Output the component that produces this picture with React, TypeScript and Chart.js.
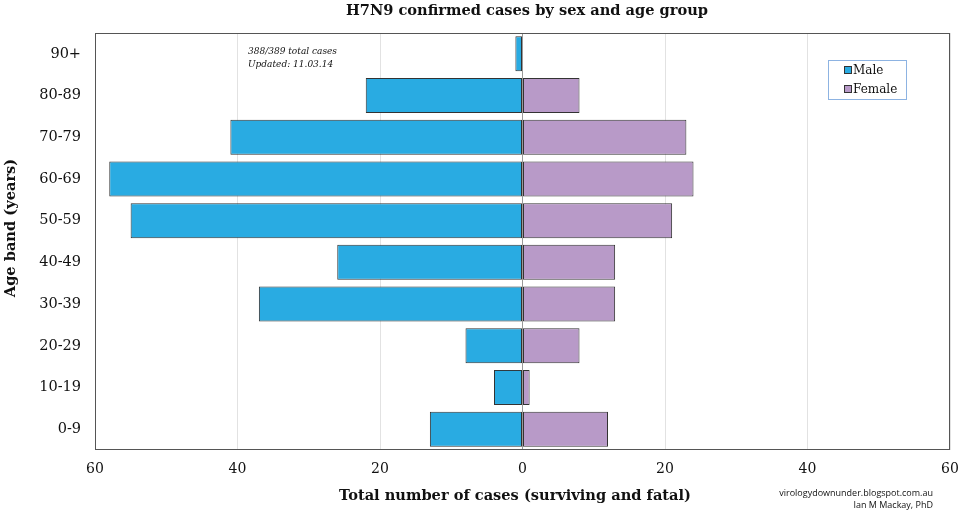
import React, { useEffect, useRef } from "react";
import { Chart, registerables } from "chart.js";

Chart.register(...registerables);

const ageBands = ["90+", "80-89", "70-79", "60-69", "50-59", "40-49", "30-39", "20-29", "10-19", "0-9"];
const maleCases = [1, 22, 41, 58, 55, 26, 37, 8, 4, 13];
const femaleCases = [0, 8, 23, 24, 21, 13, 13, 8, 1, 12];
const xTicks = [-60, -40, -20, 0, 20, 40, 60];

const titleText = "H7N9 confirmed cases by sex and age group";
const xTitleText = "Total number of cases (surviving and fatal)";
const yTitleText = "Age band (years)";
const noteLines = ["388/389 total cases", "Updated: 11.03.14"];
const creditLines = ["virologydownunder.blogspot.com.au", "Ian M Mackay, PhD"];

const MALE_COLOR = "#29ABE2";
const FEMALE_COLOR = "#B89AC8";
const SERIF = "'DejaVu Serif', 'Liberation Serif', serif";

export default function App() {
  const ref = useRef<HTMLCanvasElement | null>(null);

  useEffect(() => {
    if (!ref.current) return;
    const decor = {
      id: "decor",
      afterDraw(chart: any) {
        const { ctx, chartArea } = chart;
        const ca = chartArea;
        ctx.save();
        // plot border
        ctx.strokeStyle = "#555";
        ctx.lineWidth = 1;
        ctx.strokeRect(ca.left + 0.5, ca.top + 0.5, ca.right - ca.left - 1, ca.bottom - ca.top - 1);
        // title
        ctx.fillStyle = "#111";
        ctx.textAlign = "center";
        ctx.textBaseline = "middle";
        ctx.font = `bold 14.6px ${SERIF}`;
        ctx.fillText(titleText, 527, 11);
        // x title
        ctx.fillText(xTitleText, 515, 496);
        // y title
        ctx.save();
        ctx.translate(11, 228);
        ctx.rotate(-Math.PI / 2);
        ctx.fillText(yTitleText, 0, 0);
        ctx.restore();
        // note
        ctx.textAlign = "left";
        ctx.font = `italic 9px ${SERIF}`;
        ctx.fillText(noteLines[0], 248, 52);
        ctx.fillText(noteLines[1], 248, 65);
        // credits
        ctx.textAlign = "right";
        ctx.font = "9px 'Open Sans', 'DejaVu Sans', sans-serif";
        ctx.fillText(creditLines[0], 933, 493);
        ctx.fillText(creditLines[1], 933, 505);
        // legend
        const lx = 828, ly = 60, lw = 78, lh = 39;
        ctx.fillStyle = "#fff";
        ctx.fillRect(lx, ly, lw, lh);
        ctx.strokeStyle = "#8DB3E2";
        ctx.strokeRect(lx + 0.5, ly + 0.5, lw, lh);
        const items = chart.data.datasets.map((d: any) => ({ label: d.label, color: d.backgroundColor }));
        ctx.font = `12px ${SERIF}`;
        ctx.textAlign = "left";
        items.forEach((it: any, i: number) => {
          const y = ly + 10 + i * 19;
          ctx.fillStyle = it.color;
          ctx.fillRect(lx + 16, y - 3.5, 7, 7);
          ctx.strokeStyle = "#333";
          ctx.strokeRect(lx + 16.5, y - 3.5, 7, 7);
          ctx.fillStyle = "#111";
          ctx.fillText(it.label, lx + 25, y + 1);
        });
        ctx.restore();
      },
    };

    const chart = new Chart(ref.current, {
      type: "bar",
      data: {
        labels: ageBands,
        datasets: [
          {
            label: "Male",
            data: maleCases.map((v) => -v),
            backgroundColor: MALE_COLOR,
            borderColor: "#333",
            borderWidth: 1,
            borderSkipped: false,
          },
          {
            label: "Female",
            data: femaleCases,
            backgroundColor: FEMALE_COLOR,
            borderColor: "#333",
            borderWidth: 1,
            borderSkipped: false,
          },
        ],
      },
      options: {
        indexAxis: "y",
        animation: false,
        responsive: false,
        maintainAspectRatio: false,
        devicePixelRatio: 1,
        layout: { padding: { top: 33, right: 10, left: 0, bottom: 0 } },
        datasets: { bar: { categoryPercentage: 1, barPercentage: 0.84 } },
        plugins: { legend: { display: false }, title: { display: false }, tooltip: { enabled: false } },
        scales: {
          x: {
            stacked: true,
            min: -60,
            max: 60,
            afterBuildTicks: (s: any) => {
              s.ticks = xTicks.map((v) => ({ value: v }));
            },
            afterFit: (s: any) => {
              s.height = 61;
              s.paddingLeft = 0;
              s.paddingRight = 0;
            },
            grid: {
              color: (c: any) => (c.tick && c.tick.value === 0 ? "#999" : "#e2e2e2"),
              drawTicks: false,
            },
            border: { display: false },
            ticks: {
              color: "#111",
              padding: 11,
              font: { family: SERIF, size: 14 },
              callback: (v: any) => String(Math.abs(Number(v))),
            },
            title: { display: false },
          },
          y: {
            stacked: true,
            afterFit: (s: any) => {
              s.width = 95;
              s.paddingTop = 0;
              s.paddingBottom = 0;
            },
            grid: { display: false, drawTicks: false },
            border: { display: false },
            ticks: {
              color: "#111",
              padding: 14,
              font: { family: SERIF, size: 14.5 },
            },
            title: { display: false },
          },
        },
      },
      plugins: [decor],
    } as any);
    return () => chart.destroy();
  }, []);

  return (
    <div style={{ position: "absolute", left: 0, top: 0, width: 960, height: 511, background: "#fff" }}>
      <canvas ref={ref} width={960} height={511} style={{ width: 960, height: 511 }} />
    </div>
  );
}
